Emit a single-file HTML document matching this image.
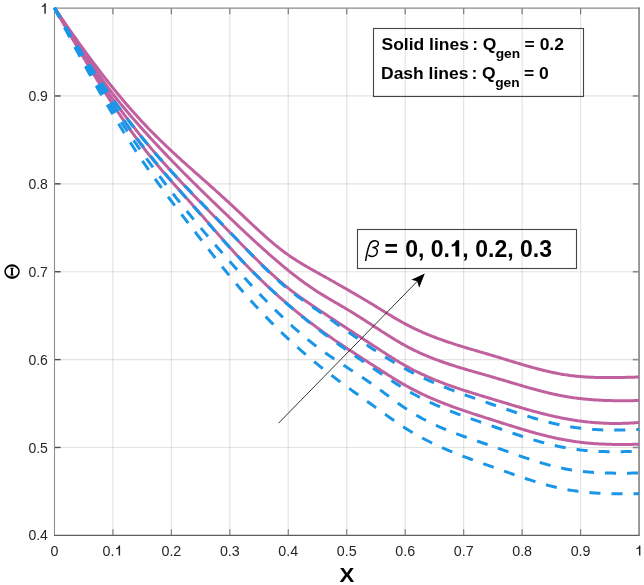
<!DOCTYPE html>
<html><head><meta charset="utf-8"><style>
html,body{margin:0;padding:0;background:#fff;overflow:hidden;width:644px;height:585px;}
svg{display:block;will-change:transform;font-family:"Liberation Sans",sans-serif;}
</style></head><body>
<svg width="644" height="585" viewBox="0 0 644 585">
<rect width="644" height="585" fill="#fff"/>
<line x1="112.90" y1="8" x2="112.90" y2="535" stroke="#000000" stroke-opacity="0.11" stroke-width="1.2"/>
<line x1="171.36" y1="8" x2="171.36" y2="535" stroke="#000000" stroke-opacity="0.11" stroke-width="1.2"/>
<line x1="229.82" y1="8" x2="229.82" y2="535" stroke="#000000" stroke-opacity="0.11" stroke-width="1.2"/>
<line x1="288.28" y1="8" x2="288.28" y2="535" stroke="#000000" stroke-opacity="0.11" stroke-width="1.2"/>
<line x1="346.74" y1="8" x2="346.74" y2="535" stroke="#000000" stroke-opacity="0.11" stroke-width="1.2"/>
<line x1="405.20" y1="8" x2="405.20" y2="535" stroke="#000000" stroke-opacity="0.11" stroke-width="1.2"/>
<line x1="463.66" y1="8" x2="463.66" y2="535" stroke="#000000" stroke-opacity="0.11" stroke-width="1.2"/>
<line x1="522.12" y1="8" x2="522.12" y2="535" stroke="#000000" stroke-opacity="0.11" stroke-width="1.2"/>
<line x1="580.58" y1="8" x2="580.58" y2="535" stroke="#000000" stroke-opacity="0.11" stroke-width="1.2"/>
<line x1="55" y1="447.48" x2="639" y2="447.48" stroke="#000000" stroke-opacity="0.11" stroke-width="1.2"/>
<line x1="55" y1="359.60" x2="639" y2="359.60" stroke="#000000" stroke-opacity="0.11" stroke-width="1.2"/>
<line x1="55" y1="271.73" x2="639" y2="271.73" stroke="#000000" stroke-opacity="0.11" stroke-width="1.2"/>
<line x1="55" y1="183.85" x2="639" y2="183.85" stroke="#000000" stroke-opacity="0.11" stroke-width="1.2"/>
<line x1="55" y1="95.97" x2="639" y2="95.97" stroke="#000000" stroke-opacity="0.11" stroke-width="1.2"/>
<line x1="54.5" y1="7.5" x2="54.5" y2="535.8" stroke="#8e8e8e" stroke-width="1.1"/>
<line x1="54" y1="535.3" x2="639.8" y2="535.3" stroke="#5e5e5e" stroke-width="1.15"/>
<line x1="54" y1="8.1" x2="639.8" y2="8.1" stroke="#8a8a8a" stroke-width="1.4"/>
<line x1="639.05" y1="7.5" x2="639.05" y2="535.8" stroke="#7a7a7a" stroke-width="1.5"/>
<line x1="112.90" y1="535" x2="112.90" y2="529.2" stroke="#7a7a7a" stroke-width="1.1"/>
<line x1="112.90" y1="8.5" x2="112.90" y2="14.3" stroke="#7a7a7a" stroke-width="1.2"/>
<line x1="171.36" y1="535" x2="171.36" y2="529.2" stroke="#7a7a7a" stroke-width="1.1"/>
<line x1="171.36" y1="8.5" x2="171.36" y2="14.3" stroke="#7a7a7a" stroke-width="1.2"/>
<line x1="229.82" y1="535" x2="229.82" y2="529.2" stroke="#7a7a7a" stroke-width="1.1"/>
<line x1="229.82" y1="8.5" x2="229.82" y2="14.3" stroke="#7a7a7a" stroke-width="1.2"/>
<line x1="288.28" y1="535" x2="288.28" y2="529.2" stroke="#7a7a7a" stroke-width="1.1"/>
<line x1="288.28" y1="8.5" x2="288.28" y2="14.3" stroke="#7a7a7a" stroke-width="1.2"/>
<line x1="346.74" y1="535" x2="346.74" y2="529.2" stroke="#7a7a7a" stroke-width="1.1"/>
<line x1="346.74" y1="8.5" x2="346.74" y2="14.3" stroke="#7a7a7a" stroke-width="1.2"/>
<line x1="405.20" y1="535" x2="405.20" y2="529.2" stroke="#7a7a7a" stroke-width="1.1"/>
<line x1="405.20" y1="8.5" x2="405.20" y2="14.3" stroke="#7a7a7a" stroke-width="1.2"/>
<line x1="463.66" y1="535" x2="463.66" y2="529.2" stroke="#7a7a7a" stroke-width="1.1"/>
<line x1="463.66" y1="8.5" x2="463.66" y2="14.3" stroke="#7a7a7a" stroke-width="1.2"/>
<line x1="522.12" y1="535" x2="522.12" y2="529.2" stroke="#7a7a7a" stroke-width="1.1"/>
<line x1="522.12" y1="8.5" x2="522.12" y2="14.3" stroke="#7a7a7a" stroke-width="1.2"/>
<line x1="580.58" y1="535" x2="580.58" y2="529.2" stroke="#7a7a7a" stroke-width="1.1"/>
<line x1="580.58" y1="8.5" x2="580.58" y2="14.3" stroke="#7a7a7a" stroke-width="1.2"/>
<line x1="55" y1="447.48" x2="60.6" y2="447.48" stroke="#4a4a4a" stroke-width="1.4"/>
<line x1="638.5" y1="447.48" x2="632.8" y2="447.48" stroke="#8a8a8a" stroke-width="1.6"/>
<line x1="55" y1="359.60" x2="60.6" y2="359.60" stroke="#4a4a4a" stroke-width="1.4"/>
<line x1="638.5" y1="359.60" x2="632.8" y2="359.60" stroke="#8a8a8a" stroke-width="1.6"/>
<line x1="55" y1="271.73" x2="60.6" y2="271.73" stroke="#4a4a4a" stroke-width="1.4"/>
<line x1="638.5" y1="271.73" x2="632.8" y2="271.73" stroke="#8a8a8a" stroke-width="1.6"/>
<line x1="55" y1="183.85" x2="60.6" y2="183.85" stroke="#4a4a4a" stroke-width="1.4"/>
<line x1="638.5" y1="183.85" x2="632.8" y2="183.85" stroke="#8a8a8a" stroke-width="1.6"/>
<line x1="55" y1="95.97" x2="60.6" y2="95.97" stroke="#4a4a4a" stroke-width="1.4"/>
<line x1="638.5" y1="95.97" x2="632.8" y2="95.97" stroke="#8a8a8a" stroke-width="1.6"/>
<path d="M54.44,7.80 L55.91,9.96 L57.37,12.11 L58.84,14.26 L60.30,16.40 L61.77,18.54 L63.23,20.66 L64.70,22.78 L66.16,24.90 L67.63,27.00 L69.09,29.10 L70.56,31.20 L72.02,33.28 L73.49,35.36 L74.95,37.42 L76.42,39.48 L77.88,41.54 L79.35,43.58 L80.81,45.62 L82.28,47.64 L83.74,49.66 L85.21,51.67 L86.67,53.68 L88.14,55.67 L89.60,57.65 L91.07,59.63 L92.53,61.59 L94.00,63.55 L95.46,65.49 L96.93,67.43 L98.39,69.36 L99.86,71.27 L101.33,73.18 L102.79,75.08 L104.26,76.96 L105.72,78.84 L107.19,80.71 L108.65,82.56 L110.12,84.40 L111.58,86.24 L113.05,88.06 L114.51,89.87 L115.98,91.67 L117.44,93.46 L118.91,95.24 L120.37,97.00 L121.84,98.75 L123.30,100.50 L124.77,102.23 L126.23,103.94 L127.70,105.65 L129.16,107.34 L130.63,109.02 L132.09,110.69 L133.56,112.34 L135.02,113.99 L136.49,115.61 L137.95,117.23 L139.42,118.83 L140.88,120.42 L142.35,122.00 L143.81,123.56 L145.28,125.11 L146.75,126.65 L148.21,128.17 L149.68,129.68 L151.14,131.18 L152.61,132.67 L154.07,134.15 L155.54,135.61 L157.00,137.07 L158.47,138.52 L159.93,139.95 L161.40,141.38 L162.86,142.79 L164.33,144.20 L165.79,145.60 L167.26,146.99 L168.72,148.38 L170.19,149.75 L171.65,151.12 L173.12,152.48 L174.58,153.84 L176.05,155.19 L177.51,156.53 L178.98,157.87 L180.44,159.20 L181.91,160.53 L183.37,161.85 L184.84,163.17 L186.30,164.49 L187.77,165.80 L189.23,167.11 L190.70,168.41 L192.17,169.72 L193.63,171.02 L195.10,172.32 L196.56,173.61 L198.03,174.91 L199.49,176.21 L200.96,177.50 L202.42,178.80 L203.89,180.09 L205.35,181.39 L206.82,182.68 L208.28,183.98 L209.75,185.28 L211.21,186.58 L212.68,187.88 L214.14,189.19 L215.61,190.50 L217.07,191.81 L218.54,193.13 L220.00,194.44 L221.47,195.77 L222.93,197.09 L224.40,198.43 L225.86,199.77 L227.33,201.11 L228.79,202.46 L230.26,203.81 L231.72,205.17 L233.19,206.54 L234.66,207.91 L236.12,209.29 L237.59,210.67 L239.05,212.05 L240.52,213.43 L241.98,214.82 L243.45,216.20 L244.91,217.59 L246.38,218.97 L247.84,220.35 L249.31,221.73 L250.77,223.11 L252.24,224.48 L253.70,225.85 L255.17,227.21 L256.63,228.56 L258.10,229.91 L259.56,231.25 L261.03,232.59 L262.49,233.91 L263.96,235.23 L265.42,236.53 L266.89,237.82 L268.35,239.10 L269.82,240.37 L271.28,241.63 L272.75,242.87 L274.21,244.09 L275.68,245.30 L277.14,246.50 L278.61,247.68 L280.08,248.84 L281.54,249.98 L283.01,251.10 L284.47,252.20 L285.94,253.28 L287.40,254.34 L288.87,255.38 L290.33,256.40 L291.80,257.39 L293.26,258.37 L294.73,259.33 L296.19,260.26 L297.66,261.19 L299.12,262.10 L300.59,262.99 L302.05,263.87 L303.52,264.74 L304.98,265.60 L306.45,266.45 L307.91,267.30 L309.38,268.13 L310.84,268.96 L312.31,269.79 L313.77,270.61 L315.24,271.43 L316.70,272.24 L318.17,273.06 L319.63,273.88 L321.10,274.70 L322.56,275.52 L324.03,276.34 L325.50,277.16 L326.96,277.98 L328.43,278.81 L329.89,279.63 L331.36,280.46 L332.82,281.29 L334.29,282.11 L335.75,282.94 L337.22,283.77 L338.68,284.61 L340.15,285.44 L341.61,286.28 L343.08,287.12 L344.54,287.96 L346.01,288.80 L347.47,289.64 L348.94,290.49 L350.40,291.33 L351.87,292.18 L353.33,293.03 L354.80,293.89 L356.26,294.74 L357.73,295.60 L359.19,296.46 L360.66,297.33 L362.12,298.19 L363.59,299.06 L365.05,299.93 L366.52,300.81 L367.98,301.68 L369.45,302.56 L370.92,303.45 L372.38,304.33 L373.85,305.22 L375.31,306.12 L376.78,307.01 L378.24,307.91 L379.71,308.81 L381.17,309.71 L382.64,310.61 L384.10,311.51 L385.57,312.41 L387.03,313.31 L388.50,314.20 L389.96,315.09 L391.43,315.98 L392.89,316.86 L394.36,317.73 L395.82,318.59 L397.29,319.45 L398.75,320.29 L400.22,321.13 L401.68,321.95 L403.15,322.77 L404.61,323.57 L406.08,324.35 L407.54,325.13 L409.01,325.88 L410.47,326.63 L411.94,327.36 L413.40,328.08 L414.87,328.79 L416.34,329.48 L417.80,330.16 L419.27,330.84 L420.73,331.49 L422.20,332.14 L423.66,332.78 L425.13,333.41 L426.59,334.02 L428.06,334.63 L429.52,335.23 L430.99,335.81 L432.45,336.39 L433.92,336.96 L435.38,337.52 L436.85,338.07 L438.31,338.61 L439.78,339.15 L441.24,339.68 L442.71,340.20 L444.17,340.71 L445.64,341.22 L447.10,341.72 L448.57,342.21 L450.03,342.70 L451.50,343.18 L452.96,343.66 L454.43,344.13 L455.89,344.60 L457.36,345.06 L458.82,345.52 L460.29,345.98 L461.76,346.43 L463.22,346.88 L464.69,347.32 L466.15,347.76 L467.62,348.20 L469.08,348.64 L470.55,349.07 L472.01,349.50 L473.48,349.93 L474.94,350.36 L476.41,350.79 L477.87,351.22 L479.34,351.65 L480.80,352.08 L482.27,352.50 L483.73,352.93 L485.20,353.36 L486.66,353.79 L488.13,354.22 L489.59,354.65 L491.06,355.09 L492.52,355.53 L493.99,355.96 L495.45,356.40 L496.92,356.85 L498.38,357.29 L499.85,357.74 L501.31,358.19 L502.78,358.63 L504.25,359.08 L505.71,359.53 L507.18,359.98 L508.64,360.43 L510.11,360.88 L511.57,361.33 L513.04,361.77 L514.50,362.22 L515.97,362.66 L517.43,363.10 L518.90,363.54 L520.36,363.98 L521.83,364.41 L523.29,364.85 L524.76,365.27 L526.22,365.70 L527.69,366.12 L529.15,366.54 L530.62,366.95 L532.08,367.36 L533.55,367.76 L535.01,368.16 L536.48,368.56 L537.94,368.94 L539.41,369.32 L540.87,369.70 L542.34,370.07 L543.80,370.43 L545.27,370.79 L546.73,371.13 L548.20,371.47 L549.67,371.81 L551.13,372.13 L552.60,372.45 L554.06,372.75 L555.53,373.05 L556.99,373.34 L558.46,373.62 L559.92,373.89 L561.39,374.15 L562.85,374.40 L564.32,374.64 L565.78,374.87 L567.25,375.09 L568.71,375.29 L570.18,375.49 L571.64,375.68 L573.11,375.85 L574.57,376.02 L576.04,376.17 L577.50,376.32 L578.97,376.46 L580.43,376.58 L581.90,376.70 L583.36,376.81 L584.83,376.92 L586.29,377.01 L587.76,377.10 L589.22,377.18 L590.69,377.25 L592.15,377.31 L593.62,377.37 L595.09,377.42 L596.55,377.46 L598.02,377.50 L599.48,377.53 L600.95,377.56 L602.41,377.58 L603.88,377.60 L605.34,377.61 L606.81,377.61 L608.27,377.61 L609.74,377.61 L611.20,377.60 L612.67,377.59 L614.13,377.58 L615.60,377.56 L617.06,377.54 L618.53,377.52 L619.99,377.49 L621.46,377.46 L622.92,377.43 L624.39,377.40 L625.85,377.36 L627.32,377.32 L628.78,377.29 L630.25,377.25 L631.71,377.21 L633.18,377.17 L634.64,377.13 L636.11,377.09 L637.57,377.05 L639.04,377.01" fill="none" stroke="#C0609E" stroke-width="3"/>
<path d="M54.44,7.80 L55.91,10.05 L57.37,12.30 L58.84,14.55 L60.30,16.80 L61.77,19.06 L63.23,21.31 L64.70,23.57 L66.16,25.83 L67.63,28.08 L69.09,30.33 L70.56,32.58 L72.02,34.83 L73.49,37.08 L74.95,39.32 L76.42,41.55 L77.88,43.78 L79.35,46.01 L80.81,48.22 L82.28,50.43 L83.74,52.64 L85.21,54.83 L86.67,57.02 L88.14,59.19 L89.60,61.36 L91.07,63.51 L92.53,65.65 L94.00,67.78 L95.46,69.90 L96.93,72.01 L98.39,74.10 L99.86,76.17 L101.33,78.23 L102.79,80.28 L104.26,82.31 L105.72,84.32 L107.19,86.31 L108.65,88.29 L110.12,90.25 L111.58,92.19 L113.05,94.10 L114.51,96.00 L115.98,97.88 L117.44,99.74 L118.91,101.58 L120.37,103.40 L121.84,105.20 L123.30,106.99 L124.77,108.76 L126.23,110.52 L127.70,112.27 L129.16,114.00 L130.63,115.71 L132.09,117.42 L133.56,119.11 L135.02,120.79 L136.49,122.46 L137.95,124.13 L139.42,125.78 L140.88,127.42 L142.35,129.06 L143.81,130.69 L145.28,132.32 L146.75,133.93 L148.21,135.54 L149.68,137.15 L151.14,138.75 L152.61,140.34 L154.07,141.92 L155.54,143.50 L157.00,145.08 L158.47,146.64 L159.93,148.20 L161.40,149.76 L162.86,151.31 L164.33,152.85 L165.79,154.39 L167.26,155.93 L168.72,157.46 L170.19,158.98 L171.65,160.50 L173.12,162.01 L174.58,163.52 L176.05,165.03 L177.51,166.52 L178.98,168.02 L180.44,169.51 L181.91,171.00 L183.37,172.48 L184.84,173.96 L186.30,175.43 L187.77,176.90 L189.23,178.36 L190.70,179.83 L192.17,181.29 L193.63,182.74 L195.10,184.19 L196.56,185.64 L198.03,187.08 L199.49,188.53 L200.96,189.96 L202.42,191.40 L203.89,192.83 L205.35,194.26 L206.82,195.69 L208.28,197.11 L209.75,198.54 L211.21,199.96 L212.68,201.37 L214.14,202.79 L215.61,204.20 L217.07,205.61 L218.54,207.02 L220.00,208.43 L221.47,209.84 L222.93,211.24 L224.40,212.64 L225.86,214.04 L227.33,215.44 L228.79,216.84 L230.26,218.24 L231.72,219.64 L233.19,221.03 L234.66,222.42 L236.12,223.82 L237.59,225.21 L239.05,226.59 L240.52,227.98 L241.98,229.36 L243.45,230.74 L244.91,232.12 L246.38,233.49 L247.84,234.86 L249.31,236.23 L250.77,237.59 L252.24,238.94 L253.70,240.30 L255.17,241.65 L256.63,242.99 L258.10,244.33 L259.56,245.66 L261.03,246.99 L262.49,248.31 L263.96,249.63 L265.42,250.94 L266.89,252.24 L268.35,253.54 L269.82,254.83 L271.28,256.11 L272.75,257.39 L274.21,258.66 L275.68,259.92 L277.14,261.17 L278.61,262.41 L280.08,263.65 L281.54,264.88 L283.01,266.10 L284.47,267.31 L285.94,268.51 L287.40,269.70 L288.87,270.88 L290.33,272.05 L291.80,273.21 L293.26,274.36 L294.73,275.50 L296.19,276.63 L297.66,277.75 L299.12,278.86 L300.59,279.96 L302.05,281.04 L303.52,282.11 L304.98,283.17 L306.45,284.22 L307.91,285.26 L309.38,286.28 L310.84,287.29 L312.31,288.29 L313.77,289.27 L315.24,290.24 L316.70,291.19 L318.17,292.14 L319.63,293.06 L321.10,293.98 L322.56,294.88 L324.03,295.78 L325.50,296.66 L326.96,297.54 L328.43,298.40 L329.89,299.27 L331.36,300.12 L332.82,300.98 L334.29,301.83 L335.75,302.68 L337.22,303.53 L338.68,304.38 L340.15,305.23 L341.61,306.08 L343.08,306.94 L344.54,307.80 L346.01,308.67 L347.47,309.54 L348.94,310.43 L350.40,311.32 L351.87,312.21 L353.33,313.12 L354.80,314.02 L356.26,314.94 L357.73,315.86 L359.19,316.78 L360.66,317.71 L362.12,318.64 L363.59,319.58 L365.05,320.52 L366.52,321.46 L367.98,322.41 L369.45,323.35 L370.92,324.30 L372.38,325.25 L373.85,326.20 L375.31,327.15 L376.78,328.10 L378.24,329.06 L379.71,330.01 L381.17,330.95 L382.64,331.90 L384.10,332.84 L385.57,333.78 L387.03,334.71 L388.50,335.64 L389.96,336.56 L391.43,337.47 L392.89,338.38 L394.36,339.28 L395.82,340.16 L397.29,341.04 L398.75,341.91 L400.22,342.76 L401.68,343.60 L403.15,344.43 L404.61,345.25 L406.08,346.05 L407.54,346.84 L409.01,347.61 L410.47,348.36 L411.94,349.11 L413.40,349.84 L414.87,350.55 L416.34,351.26 L417.80,351.95 L419.27,352.62 L420.73,353.29 L422.20,353.94 L423.66,354.59 L425.13,355.22 L426.59,355.84 L428.06,356.45 L429.52,357.04 L430.99,357.63 L432.45,358.21 L433.92,358.78 L435.38,359.34 L436.85,359.89 L438.31,360.43 L439.78,360.97 L441.24,361.49 L442.71,362.01 L444.17,362.52 L445.64,363.02 L447.10,363.52 L448.57,364.01 L450.03,364.49 L451.50,364.97 L452.96,365.44 L454.43,365.91 L455.89,366.37 L457.36,366.82 L458.82,367.27 L460.29,367.72 L461.76,368.16 L463.22,368.60 L464.69,369.03 L466.15,369.47 L467.62,369.90 L469.08,370.32 L470.55,370.75 L472.01,371.17 L473.48,371.59 L474.94,372.01 L476.41,372.43 L477.87,372.84 L479.34,373.26 L480.80,373.68 L482.27,374.09 L483.73,374.51 L485.20,374.93 L486.66,375.34 L488.13,375.76 L489.59,376.18 L491.06,376.61 L492.52,377.03 L493.99,377.46 L495.45,377.89 L496.92,378.32 L498.38,378.75 L499.85,379.19 L501.31,379.62 L502.78,380.06 L504.25,380.50 L505.71,380.93 L507.18,381.37 L508.64,381.81 L510.11,382.25 L511.57,382.69 L513.04,383.12 L514.50,383.56 L515.97,384.00 L517.43,384.43 L518.90,384.86 L520.36,385.30 L521.83,385.73 L523.29,386.15 L524.76,386.58 L526.22,387.00 L527.69,387.42 L529.15,387.83 L530.62,388.25 L532.08,388.65 L533.55,389.06 L535.01,389.46 L536.48,389.86 L537.94,390.25 L539.41,390.63 L540.87,391.02 L542.34,391.39 L543.80,391.76 L545.27,392.13 L546.73,392.49 L548.20,392.84 L549.67,393.19 L551.13,393.53 L552.60,393.86 L554.06,394.18 L555.53,394.50 L556.99,394.81 L558.46,395.12 L559.92,395.41 L561.39,395.70 L562.85,395.97 L564.32,396.24 L565.78,396.50 L567.25,396.75 L568.71,396.99 L570.18,397.23 L571.64,397.45 L573.11,397.66 L574.57,397.87 L576.04,398.07 L577.50,398.25 L578.97,398.43 L580.43,398.61 L581.90,398.77 L583.36,398.93 L584.83,399.08 L586.29,399.22 L587.76,399.35 L589.22,399.48 L590.69,399.60 L592.15,399.71 L593.62,399.82 L595.09,399.92 L596.55,400.01 L598.02,400.10 L599.48,400.18 L600.95,400.25 L602.41,400.32 L603.88,400.38 L605.34,400.44 L606.81,400.49 L608.27,400.54 L609.74,400.58 L611.20,400.61 L612.67,400.65 L614.13,400.67 L615.60,400.69 L617.06,400.71 L618.53,400.72 L619.99,400.73 L621.46,400.73 L622.92,400.73 L624.39,400.73 L625.85,400.72 L627.32,400.71 L628.78,400.70 L630.25,400.68 L631.71,400.66 L633.18,400.63 L634.64,400.61 L636.11,400.58 L637.57,400.54 L639.04,400.51" fill="none" stroke="#C0609E" stroke-width="3"/>
<path d="M54.44,7.80 L55.91,10.34 L57.37,12.87 L58.84,15.39 L60.30,17.90 L61.77,20.39 L63.23,22.86 L64.70,25.33 L66.16,27.78 L67.63,30.22 L69.09,32.64 L70.56,35.06 L72.02,37.45 L73.49,39.84 L74.95,42.21 L76.42,44.57 L77.88,46.92 L79.35,49.25 L80.81,51.57 L82.28,53.88 L83.74,56.18 L85.21,58.46 L86.67,60.73 L88.14,62.99 L89.60,65.23 L91.07,67.46 L92.53,69.68 L94.00,71.89 L95.46,74.08 L96.93,76.26 L98.39,78.43 L99.86,80.58 L101.33,82.73 L102.79,84.86 L104.26,86.98 L105.72,89.08 L107.19,91.17 L108.65,93.26 L110.12,95.32 L111.58,97.38 L113.05,99.43 L114.51,101.46 L115.98,103.48 L117.44,105.48 L118.91,107.48 L120.37,109.46 L121.84,111.43 L123.30,113.39 L124.77,115.34 L126.23,117.28 L127.70,119.20 L129.16,121.11 L130.63,123.01 L132.09,124.90 L133.56,126.77 L135.02,128.64 L136.49,130.49 L137.95,132.33 L139.42,134.16 L140.88,135.97 L142.35,137.78 L143.81,139.57 L145.28,141.35 L146.75,143.12 L148.21,144.88 L149.68,146.63 L151.14,148.37 L152.61,150.10 L154.07,151.81 L155.54,153.52 L157.00,155.22 L158.47,156.91 L159.93,158.59 L161.40,160.26 L162.86,161.92 L164.33,163.58 L165.79,165.22 L167.26,166.86 L168.72,168.49 L170.19,170.11 L171.65,171.72 L173.12,173.33 L174.58,174.93 L176.05,176.53 L177.51,178.11 L178.98,179.69 L180.44,181.27 L181.91,182.84 L183.37,184.40 L184.84,185.96 L186.30,187.51 L187.77,189.06 L189.23,190.60 L190.70,192.14 L192.17,193.67 L193.63,195.20 L195.10,196.73 L196.56,198.25 L198.03,199.77 L199.49,201.28 L200.96,202.80 L202.42,204.31 L203.89,205.81 L205.35,207.32 L206.82,208.82 L208.28,210.32 L209.75,211.82 L211.21,213.32 L212.68,214.82 L214.14,216.31 L215.61,217.81 L217.07,219.30 L218.54,220.80 L220.00,222.29 L221.47,223.79 L222.93,225.28 L224.40,226.78 L225.86,228.27 L227.33,229.77 L228.79,231.27 L230.26,232.77 L231.72,234.27 L233.19,235.77 L234.66,237.27 L236.12,238.78 L237.59,240.28 L239.05,241.78 L240.52,243.28 L241.98,244.78 L243.45,246.27 L244.91,247.76 L246.38,249.25 L247.84,250.74 L249.31,252.22 L250.77,253.69 L252.24,255.16 L253.70,256.63 L255.17,258.08 L256.63,259.53 L258.10,260.98 L259.56,262.41 L261.03,263.84 L262.49,265.26 L263.96,266.66 L265.42,268.06 L266.89,269.45 L268.35,270.82 L269.82,272.19 L271.28,273.54 L272.75,274.88 L274.21,276.21 L275.68,277.52 L277.14,278.82 L278.61,280.11 L280.08,281.38 L281.54,282.64 L283.01,283.87 L284.47,285.10 L285.94,286.30 L287.40,287.49 L288.87,288.66 L290.33,289.81 L291.80,290.95 L293.26,292.07 L294.73,293.17 L296.19,294.26 L297.66,295.34 L299.12,296.40 L300.59,297.45 L302.05,298.49 L303.52,299.52 L304.98,300.54 L306.45,301.55 L307.91,302.55 L309.38,303.55 L310.84,304.54 L312.31,305.53 L313.77,306.51 L315.24,307.49 L316.70,308.46 L318.17,309.43 L319.63,310.41 L321.10,311.38 L322.56,312.35 L324.03,313.32 L325.50,314.29 L326.96,315.25 L328.43,316.22 L329.89,317.18 L331.36,318.15 L332.82,319.11 L334.29,320.07 L335.75,321.03 L337.22,322.00 L338.68,322.96 L340.15,323.92 L341.61,324.87 L343.08,325.83 L344.54,326.79 L346.01,327.75 L347.47,328.71 L348.94,329.66 L350.40,330.62 L351.87,331.57 L353.33,332.53 L354.80,333.49 L356.26,334.44 L357.73,335.40 L359.19,336.35 L360.66,337.31 L362.12,338.26 L363.59,339.22 L365.05,340.17 L366.52,341.13 L367.98,342.09 L369.45,343.04 L370.92,344.00 L372.38,344.96 L373.85,345.91 L375.31,346.87 L376.78,347.83 L378.24,348.79 L379.71,349.74 L381.17,350.70 L382.64,351.65 L384.10,352.61 L385.57,353.55 L387.03,354.50 L388.50,355.44 L389.96,356.37 L391.43,357.30 L392.89,358.22 L394.36,359.13 L395.82,360.03 L397.29,360.93 L398.75,361.81 L400.22,362.69 L401.68,363.55 L403.15,364.40 L404.61,365.24 L406.08,366.07 L407.54,366.88 L409.01,367.68 L410.47,368.46 L411.94,369.23 L413.40,369.99 L414.87,370.74 L416.34,371.48 L417.80,372.20 L419.27,372.91 L420.73,373.61 L422.20,374.30 L423.66,374.98 L425.13,375.65 L426.59,376.31 L428.06,376.96 L429.52,377.59 L430.99,378.22 L432.45,378.84 L433.92,379.45 L435.38,380.05 L436.85,380.64 L438.31,381.23 L439.78,381.80 L441.24,382.37 L442.71,382.93 L444.17,383.48 L445.64,384.03 L447.10,384.56 L448.57,385.10 L450.03,385.62 L451.50,386.14 L452.96,386.65 L454.43,387.16 L455.89,387.66 L457.36,388.16 L458.82,388.65 L460.29,389.13 L461.76,389.62 L463.22,390.09 L464.69,390.57 L466.15,391.04 L467.62,391.50 L469.08,391.97 L470.55,392.43 L472.01,392.88 L473.48,393.34 L474.94,393.79 L476.41,394.24 L477.87,394.69 L479.34,395.13 L480.80,395.58 L482.27,396.02 L483.73,396.46 L485.20,396.91 L486.66,397.35 L488.13,397.79 L489.59,398.23 L491.06,398.67 L492.52,399.11 L493.99,399.56 L495.45,400.00 L496.92,400.45 L498.38,400.89 L499.85,401.34 L501.31,401.78 L502.78,402.23 L504.25,402.67 L505.71,403.12 L507.18,403.56 L508.64,404.00 L510.11,404.44 L511.57,404.88 L513.04,405.32 L514.50,405.76 L515.97,406.20 L517.43,406.63 L518.90,407.06 L520.36,407.49 L521.83,407.92 L523.29,408.35 L524.76,408.77 L526.22,409.19 L527.69,409.60 L529.15,410.02 L530.62,410.43 L532.08,410.83 L533.55,411.23 L535.01,411.63 L536.48,412.03 L537.94,412.42 L539.41,412.80 L540.87,413.18 L542.34,413.56 L543.80,413.93 L545.27,414.30 L546.73,414.66 L548.20,415.01 L549.67,415.36 L551.13,415.70 L552.60,416.04 L554.06,416.37 L555.53,416.70 L556.99,417.02 L558.46,417.33 L559.92,417.63 L561.39,417.93 L562.85,418.22 L564.32,418.51 L565.78,418.78 L567.25,419.05 L568.71,419.31 L570.18,419.56 L571.64,419.81 L573.11,420.04 L574.57,420.27 L576.04,420.49 L577.50,420.71 L578.97,420.91 L580.43,421.11 L581.90,421.30 L583.36,421.48 L584.83,421.65 L586.29,421.82 L587.76,421.98 L589.22,422.13 L590.69,422.27 L592.15,422.41 L593.62,422.53 L595.09,422.65 L596.55,422.76 L598.02,422.86 L599.48,422.96 L600.95,423.04 L602.41,423.12 L603.88,423.19 L605.34,423.26 L606.81,423.31 L608.27,423.36 L609.74,423.39 L611.20,423.42 L612.67,423.45 L614.13,423.46 L615.60,423.47 L617.06,423.46 L618.53,423.45 L619.99,423.44 L621.46,423.41 L622.92,423.37 L624.39,423.33 L625.85,423.28 L627.32,423.22 L628.78,423.15 L630.25,423.08 L631.71,423.00 L633.18,422.90 L634.64,422.80 L636.11,422.69 L637.57,422.58 L639.04,422.45" fill="none" stroke="#C0609E" stroke-width="3"/>
<path d="M54.44,7.80 L55.91,10.34 L57.37,12.88 L58.84,15.41 L60.30,17.94 L61.77,20.47 L63.23,22.99 L64.70,25.51 L66.16,28.03 L67.63,30.54 L69.09,33.05 L70.56,35.55 L72.02,38.05 L73.49,40.54 L74.95,43.02 L76.42,45.50 L77.88,47.98 L79.35,50.44 L80.81,52.90 L82.28,55.35 L83.74,57.80 L85.21,60.23 L86.67,62.66 L88.14,65.08 L89.60,67.50 L91.07,69.90 L92.53,72.29 L94.00,74.68 L95.46,77.05 L96.93,79.42 L98.39,81.77 L99.86,84.11 L101.33,86.45 L102.79,88.77 L104.26,91.08 L105.72,93.38 L107.19,95.67 L108.65,97.94 L110.12,100.20 L111.58,102.45 L113.05,104.69 L114.51,106.91 L115.98,109.12 L117.44,111.32 L118.91,113.50 L120.37,115.67 L121.84,117.82 L123.30,119.96 L124.77,122.08 L126.23,124.19 L127.70,126.28 L129.16,128.35 L130.63,130.41 L132.09,132.45 L133.56,134.48 L135.02,136.48 L136.49,138.47 L137.95,140.45 L139.42,142.40 L140.88,144.34 L142.35,146.25 L143.81,148.15 L145.28,150.03 L146.75,151.90 L148.21,153.74 L149.68,155.57 L151.14,157.39 L152.61,159.19 L154.07,160.97 L155.54,162.74 L157.00,164.50 L158.47,166.25 L159.93,167.98 L161.40,169.71 L162.86,171.42 L164.33,173.12 L165.79,174.82 L167.26,176.50 L168.72,178.18 L170.19,179.85 L171.65,181.52 L173.12,183.18 L174.58,184.83 L176.05,186.48 L177.51,188.12 L178.98,189.76 L180.44,191.40 L181.91,193.04 L183.37,194.67 L184.84,196.31 L186.30,197.94 L187.77,199.58 L189.23,201.21 L190.70,202.85 L192.17,204.49 L193.63,206.13 L195.10,207.78 L196.56,209.43 L198.03,211.08 L199.49,212.74 L200.96,214.41 L202.42,216.09 L203.89,217.77 L205.35,219.45 L206.82,221.14 L208.28,222.83 L209.75,224.52 L211.21,226.22 L212.68,227.91 L214.14,229.61 L215.61,231.30 L217.07,232.99 L218.54,234.68 L220.00,236.37 L221.47,238.05 L222.93,239.72 L224.40,241.39 L225.86,243.05 L227.33,244.71 L228.79,246.35 L230.26,247.98 L231.72,249.61 L233.19,251.22 L234.66,252.83 L236.12,254.42 L237.59,256.00 L239.05,257.57 L240.52,259.14 L241.98,260.69 L243.45,262.23 L244.91,263.76 L246.38,265.28 L247.84,266.80 L249.31,268.30 L250.77,269.79 L252.24,271.27 L253.70,272.74 L255.17,274.21 L256.63,275.66 L258.10,277.10 L259.56,278.54 L261.03,279.96 L262.49,281.38 L263.96,282.78 L265.42,284.18 L266.89,285.56 L268.35,286.94 L269.82,288.31 L271.28,289.66 L272.75,291.01 L274.21,292.35 L275.68,293.68 L277.14,295.00 L278.61,296.31 L280.08,297.62 L281.54,298.91 L283.01,300.20 L284.47,301.47 L285.94,302.74 L287.40,304.00 L288.87,305.25 L290.33,306.49 L291.80,307.72 L293.26,308.94 L294.73,310.16 L296.19,311.36 L297.66,312.56 L299.12,313.75 L300.59,314.93 L302.05,316.10 L303.52,317.26 L304.98,318.42 L306.45,319.57 L307.91,320.70 L309.38,321.83 L310.84,322.96 L312.31,324.07 L313.77,325.17 L315.24,326.27 L316.70,327.36 L318.17,328.44 L319.63,329.52 L321.10,330.58 L322.56,331.64 L324.03,332.69 L325.50,333.74 L326.96,334.77 L328.43,335.80 L329.89,336.83 L331.36,337.85 L332.82,338.86 L334.29,339.87 L335.75,340.87 L337.22,341.87 L338.68,342.86 L340.15,343.84 L341.61,344.83 L343.08,345.81 L344.54,346.78 L346.01,347.75 L347.47,348.72 L348.94,349.68 L350.40,350.64 L351.87,351.60 L353.33,352.55 L354.80,353.51 L356.26,354.46 L357.73,355.40 L359.19,356.35 L360.66,357.30 L362.12,358.24 L363.59,359.18 L365.05,360.12 L366.52,361.06 L367.98,362.01 L369.45,362.95 L370.92,363.89 L372.38,364.83 L373.85,365.77 L375.31,366.71 L376.78,367.65 L378.24,368.60 L379.71,369.54 L381.17,370.49 L382.64,371.43 L384.10,372.37 L385.57,373.30 L387.03,374.24 L388.50,375.17 L389.96,376.09 L391.43,377.01 L392.89,377.92 L394.36,378.83 L395.82,379.73 L397.29,380.62 L398.75,381.50 L400.22,382.37 L401.68,383.23 L403.15,384.08 L404.61,384.92 L406.08,385.75 L407.54,386.56 L409.01,387.36 L410.47,388.15 L411.94,388.93 L413.40,389.70 L414.87,390.45 L416.34,391.20 L417.80,391.93 L419.27,392.65 L420.73,393.36 L422.20,394.06 L423.66,394.75 L425.13,395.43 L426.59,396.10 L428.06,396.77 L429.52,397.42 L430.99,398.06 L432.45,398.70 L433.92,399.32 L435.38,399.94 L436.85,400.55 L438.31,401.15 L439.78,401.75 L441.24,402.34 L442.71,402.92 L444.17,403.49 L445.64,404.05 L447.10,404.61 L448.57,405.17 L450.03,405.71 L451.50,406.26 L452.96,406.79 L454.43,407.32 L455.89,407.85 L457.36,408.37 L458.82,408.88 L460.29,409.39 L461.76,409.90 L463.22,410.40 L464.69,410.90 L466.15,411.39 L467.62,411.88 L469.08,412.37 L470.55,412.86 L472.01,413.34 L473.48,413.82 L474.94,414.30 L476.41,414.77 L477.87,415.25 L479.34,415.72 L480.80,416.19 L482.27,416.66 L483.73,417.12 L485.20,417.59 L486.66,418.06 L488.13,418.52 L489.59,418.99 L491.06,419.46 L492.52,419.92 L493.99,420.39 L495.45,420.86 L496.92,421.33 L498.38,421.79 L499.85,422.26 L501.31,422.73 L502.78,423.20 L504.25,423.66 L505.71,424.13 L507.18,424.59 L508.64,425.06 L510.11,425.52 L511.57,425.98 L513.04,426.44 L514.50,426.89 L515.97,427.35 L517.43,427.80 L518.90,428.25 L520.36,428.69 L521.83,429.14 L523.29,429.58 L524.76,430.01 L526.22,430.44 L527.69,430.87 L529.15,431.30 L530.62,431.72 L532.08,432.14 L533.55,432.55 L535.01,432.96 L536.48,433.36 L537.94,433.76 L539.41,434.15 L540.87,434.54 L542.34,434.92 L543.80,435.29 L545.27,435.66 L546.73,436.02 L548.20,436.38 L549.67,436.73 L551.13,437.07 L552.60,437.41 L554.06,437.74 L555.53,438.06 L556.99,438.37 L558.46,438.68 L559.92,438.97 L561.39,439.26 L562.85,439.55 L564.32,439.82 L565.78,440.08 L567.25,440.34 L568.71,440.58 L570.18,440.82 L571.64,441.05 L573.11,441.27 L574.57,441.48 L576.04,441.69 L577.50,441.88 L578.97,442.07 L580.43,442.25 L581.90,442.42 L583.36,442.58 L584.83,442.74 L586.29,442.89 L587.76,443.03 L589.22,443.16 L590.69,443.29 L592.15,443.41 L593.62,443.52 L595.09,443.63 L596.55,443.72 L598.02,443.82 L599.48,443.90 L600.95,443.98 L602.41,444.06 L603.88,444.12 L605.34,444.18 L606.81,444.24 L608.27,444.29 L609.74,444.33 L611.20,444.37 L612.67,444.40 L614.13,444.43 L615.60,444.45 L617.06,444.47 L618.53,444.48 L619.99,444.49 L621.46,444.49 L622.92,444.49 L624.39,444.48 L625.85,444.47 L627.32,444.45 L628.78,444.43 L630.25,444.40 L631.71,444.38 L633.18,444.34 L634.64,444.31 L636.11,444.27 L637.57,444.22 L639.04,444.18" fill="none" stroke="#C0609E" stroke-width="3"/>
<path d="M54.44,7.80 L55.91,10.32 L57.37,12.84 L58.84,15.34 L60.30,17.82 L61.77,20.30 L63.23,22.77 L64.70,25.22 L66.16,27.67 L67.63,30.10 L69.09,32.52 L70.56,34.92 L72.02,37.32 L73.49,39.70 L74.95,42.08 L76.42,44.44 L77.88,46.79 L79.35,49.12 L80.81,51.45 L82.28,53.76 L83.74,56.06 L85.21,58.35 L86.67,60.63 L88.14,62.89 L89.60,65.15 L91.07,67.39 L92.53,69.62 L94.00,71.83 L95.46,74.04 L96.93,76.23 L98.39,78.41 L99.86,80.58 L101.33,82.74 L102.79,84.88 L104.26,87.01 L105.72,89.13 L107.19,91.23 L108.65,93.33 L110.12,95.41 L111.58,97.48 L113.05,99.54 L114.51,101.58 L115.98,103.61 L117.44,105.63 L118.91,107.63 L120.37,109.63 L121.84,111.61 L123.30,113.58 L124.77,115.53 L126.23,117.48 L127.70,119.40 L129.16,121.32 L130.63,123.23 L132.09,125.12 L133.56,127.00 L135.02,128.86 L136.49,130.71 L137.95,132.55 L139.42,134.38 L140.88,136.19 L142.35,137.99 L143.81,139.78 L145.28,141.56 L146.75,143.32 L148.21,145.07 L149.68,146.81 L151.14,148.53 L152.61,150.25 L154.07,151.95 L155.54,153.65 L157.00,155.33 L158.47,157.00 L159.93,158.66 L161.40,160.32 L162.86,161.96 L164.33,163.60 L165.79,165.22 L167.26,166.84 L168.72,168.45 L170.19,170.05 L171.65,171.64 L173.12,173.23 L174.58,174.81 L176.05,176.38 L177.51,177.95 L178.98,179.51 L180.44,181.06 L181.91,182.61 L183.37,184.15 L184.84,185.69 L186.30,187.22 L187.77,188.75 L189.23,190.28 L190.70,191.80 L192.17,193.31 L193.63,194.83 L195.10,196.34 L196.56,197.84 L198.03,199.35 L199.49,200.85 L200.96,202.35 L202.42,203.85 L203.89,205.35 L205.35,206.84 L206.82,208.34 L208.28,209.84 L209.75,211.33 L211.21,212.82 L212.68,214.32 L214.14,215.82 L215.61,217.31 L217.07,218.81 L218.54,220.31 L220.00,221.81 L221.47,223.31 L222.93,224.82 L224.40,226.33 L225.86,227.84 L227.33,229.35 L228.79,230.87 L230.26,232.39 L231.72,233.92 L233.19,235.44 L234.66,236.97 L236.12,238.51 L237.59,240.04 L239.05,241.57 L240.52,243.11 L241.98,244.64 L243.45,246.18 L244.91,247.71 L246.38,249.23 L247.84,250.76 L249.31,252.28 L250.77,253.80 L252.24,255.31 L253.70,256.82 L255.17,258.32 L256.63,259.81 L258.10,261.30 L259.56,262.78 L261.03,264.25 L262.49,265.71 L263.96,267.16 L265.42,268.60 L266.89,270.03 L268.35,271.44 L269.82,272.85 L271.28,274.24 L272.75,275.62 L274.21,276.98 L275.68,278.33 L277.14,279.67 L278.61,280.98 L280.08,282.29 L281.54,283.57 L283.01,284.84 L284.47,286.08 L285.94,287.31 L287.40,288.52 L288.87,289.71 L290.33,290.88 L291.80,292.02 L293.26,293.16 L294.73,294.27 L296.19,295.37 L297.66,296.45 L299.12,297.52 L300.59,298.58 L302.05,299.63 L303.52,300.67 L304.98,301.71 L306.45,302.73 L307.91,303.75 L309.38,304.76 L310.84,305.78 L312.31,306.78 L313.77,307.79 L315.24,308.80 L316.70,309.81 L318.17,310.82 L319.63,311.84 L321.10,312.86 L322.56,313.88 L324.03,314.91 L325.50,315.93 L326.96,316.96 L328.43,317.99 L329.89,319.03 L331.36,320.06 L332.82,321.09 L334.29,322.13 L335.75,323.17 L337.22,324.21 L338.68,325.24 L340.15,326.28 L341.61,327.32 L343.08,328.36 L344.54,329.39 L346.01,330.43 L347.47,331.46 L348.94,332.50 L350.40,333.53 L351.87,334.56 L353.33,335.59 L354.80,336.61 L356.26,337.64 L357.73,338.66 L359.19,339.67 L360.66,340.69 L362.12,341.70 L363.59,342.71 L365.05,343.71 L366.52,344.71 L367.98,345.71 L369.45,346.70 L370.92,347.68 L372.38,348.66 L373.85,349.64 L375.31,350.61 L376.78,351.57 L378.24,352.53 L379.71,353.48 L381.17,354.43 L382.64,355.36 L384.10,356.30 L385.57,357.22 L387.03,358.14 L388.50,359.05 L389.96,359.95 L391.43,360.84 L392.89,361.73 L394.36,362.61 L395.82,363.48 L397.29,364.33 L398.75,365.18 L400.22,366.03 L401.68,366.86 L403.15,367.68 L404.61,368.49 L406.08,369.29 L407.54,370.08 L409.01,370.86 L410.47,371.63 L411.94,372.39 L413.40,373.14 L414.87,373.88 L416.34,374.61 L417.80,375.34 L419.27,376.05 L420.73,376.76 L422.20,377.45 L423.66,378.14 L425.13,378.82 L426.59,379.49 L428.06,380.16 L429.52,380.81 L430.99,381.46 L432.45,382.11 L433.92,382.74 L435.38,383.37 L436.85,383.99 L438.31,384.61 L439.78,385.21 L441.24,385.82 L442.71,386.41 L444.17,387.00 L445.64,387.59 L447.10,388.17 L448.57,388.74 L450.03,389.31 L451.50,389.88 L452.96,390.44 L454.43,390.99 L455.89,391.55 L457.36,392.09 L458.82,392.64 L460.29,393.18 L461.76,393.71 L463.22,394.24 L464.69,394.77 L466.15,395.30 L467.62,395.82 L469.08,396.34 L470.55,396.86 L472.01,397.38 L473.48,397.89 L474.94,398.40 L476.41,398.91 L477.87,399.42 L479.34,399.93 L480.80,400.44 L482.27,400.94 L483.73,401.45 L485.20,401.95 L486.66,402.45 L488.13,402.96 L489.59,403.46 L491.06,403.96 L492.52,404.47 L493.99,404.97 L495.45,405.47 L496.92,405.98 L498.38,406.48 L499.85,406.99 L501.31,407.49 L502.78,407.99 L504.25,408.50 L505.71,409.00 L507.18,409.50 L508.64,409.99 L510.11,410.49 L511.57,410.98 L513.04,411.48 L514.50,411.97 L515.97,412.45 L517.43,412.94 L518.90,413.42 L520.36,413.90 L521.83,414.37 L523.29,414.84 L524.76,415.31 L526.22,415.77 L527.69,416.23 L529.15,416.69 L530.62,417.14 L532.08,417.58 L533.55,418.02 L535.01,418.46 L536.48,418.88 L537.94,419.31 L539.41,419.72 L540.87,420.14 L542.34,420.54 L543.80,420.94 L545.27,421.33 L546.73,421.71 L548.20,422.09 L549.67,422.46 L551.13,422.82 L552.60,423.18 L554.06,423.52 L555.53,423.86 L556.99,424.19 L558.46,424.51 L559.92,424.82 L561.39,425.12 L562.85,425.42 L564.32,425.70 L565.78,425.97 L567.25,426.24 L568.71,426.49 L570.18,426.74 L571.64,426.97 L573.11,427.20 L574.57,427.41 L576.04,427.62 L577.50,427.82 L578.97,428.00 L580.43,428.18 L581.90,428.35 L583.36,428.52 L584.83,428.67 L586.29,428.81 L587.76,428.95 L589.22,429.08 L590.69,429.20 L592.15,429.31 L593.62,429.42 L595.09,429.51 L596.55,429.60 L598.02,429.68 L599.48,429.76 L600.95,429.82 L602.41,429.88 L603.88,429.93 L605.34,429.98 L606.81,430.02 L608.27,430.05 L609.74,430.07 L611.20,430.09 L612.67,430.11 L614.13,430.11 L615.60,430.11 L617.06,430.11 L618.53,430.09 L619.99,430.08 L621.46,430.05 L622.92,430.02 L624.39,429.99 L625.85,429.95 L627.32,429.91 L628.78,429.86 L630.25,429.80 L631.71,429.74 L633.18,429.68 L634.64,429.61 L636.11,429.54 L637.57,429.46 L639.04,429.38" fill="none" stroke="#1A96E8" stroke-width="3" stroke-dasharray="11.1 10.98"/>
<path d="M54.44,7.80 L55.91,10.41 L57.37,13.02 L58.84,15.62 L60.30,18.20 L61.77,20.78 L63.23,23.35 L64.70,25.91 L66.16,28.46 L67.63,31.00 L69.09,33.53 L70.56,36.05 L72.02,38.56 L73.49,41.06 L74.95,43.55 L76.42,46.03 L77.88,48.50 L79.35,50.96 L80.81,53.41 L82.28,55.85 L83.74,58.27 L85.21,60.69 L86.67,63.10 L88.14,65.49 L89.60,67.87 L91.07,70.25 L92.53,72.61 L94.00,74.96 L95.46,77.29 L96.93,79.62 L98.39,81.94 L99.86,84.24 L101.33,86.53 L102.79,88.81 L104.26,91.08 L105.72,93.33 L107.19,95.57 L108.65,97.80 L110.12,100.02 L111.58,102.23 L113.05,104.42 L114.51,106.60 L115.98,108.76 L117.44,110.92 L118.91,113.06 L120.37,115.19 L121.84,117.30 L123.30,119.40 L124.77,121.49 L126.23,123.56 L127.70,125.62 L129.16,127.67 L130.63,129.70 L132.09,131.72 L133.56,133.72 L135.02,135.71 L136.49,137.69 L137.95,139.65 L139.42,141.60 L140.88,143.53 L142.35,145.45 L143.81,147.35 L145.28,149.24 L146.75,151.11 L148.21,152.98 L149.68,154.82 L151.14,156.66 L152.61,158.49 L154.07,160.30 L155.54,162.10 L157.00,163.89 L158.47,165.67 L159.93,167.44 L161.40,169.20 L162.86,170.96 L164.33,172.70 L165.79,174.44 L167.26,176.16 L168.72,177.88 L170.19,179.60 L171.65,181.31 L173.12,183.01 L174.58,184.71 L176.05,186.40 L177.51,188.08 L178.98,189.77 L180.44,191.45 L181.91,193.12 L183.37,194.80 L184.84,196.47 L186.30,198.14 L187.77,199.81 L189.23,201.47 L190.70,203.14 L192.17,204.80 L193.63,206.47 L195.10,208.14 L196.56,209.81 L198.03,211.48 L199.49,213.15 L200.96,214.82 L202.42,216.50 L203.89,218.18 L205.35,219.86 L206.82,221.54 L208.28,223.22 L209.75,224.90 L211.21,226.59 L212.68,228.26 L214.14,229.94 L215.61,231.61 L217.07,233.29 L218.54,234.95 L220.00,236.61 L221.47,238.27 L222.93,239.92 L224.40,241.57 L225.86,243.20 L227.33,244.83 L228.79,246.45 L230.26,248.07 L231.72,249.67 L233.19,251.26 L234.66,252.85 L236.12,254.43 L237.59,255.99 L239.05,257.55 L240.52,259.10 L241.98,260.64 L243.45,262.17 L244.91,263.69 L246.38,265.20 L247.84,266.71 L249.31,268.20 L250.77,269.69 L252.24,271.16 L253.70,272.63 L255.17,274.09 L256.63,275.54 L258.10,276.99 L259.56,278.42 L261.03,279.85 L262.49,281.27 L263.96,282.67 L265.42,284.08 L266.89,285.47 L268.35,286.85 L269.82,288.23 L271.28,289.60 L272.75,290.96 L274.21,292.31 L275.68,293.65 L277.14,294.99 L278.61,296.31 L280.08,297.63 L281.54,298.94 L283.01,300.25 L284.47,301.54 L285.94,302.83 L287.40,304.11 L288.87,305.38 L290.33,306.65 L291.80,307.91 L293.26,309.16 L294.73,310.40 L296.19,311.63 L297.66,312.86 L299.12,314.08 L300.59,315.29 L302.05,316.50 L303.52,317.69 L304.98,318.89 L306.45,320.07 L307.91,321.24 L309.38,322.41 L310.84,323.58 L312.31,324.73 L313.77,325.88 L315.24,327.02 L316.70,328.15 L318.17,329.28 L319.63,330.40 L321.10,331.51 L322.56,332.62 L324.03,333.72 L325.50,334.82 L326.96,335.90 L328.43,336.99 L329.89,338.07 L331.36,339.14 L332.82,340.20 L334.29,341.27 L335.75,342.32 L337.22,343.38 L338.68,344.43 L340.15,345.47 L341.61,346.51 L343.08,347.55 L344.54,348.58 L346.01,349.61 L347.47,350.63 L348.94,351.66 L350.40,352.68 L351.87,353.69 L353.33,354.71 L354.80,355.72 L356.26,356.73 L357.73,357.73 L359.19,358.74 L360.66,359.74 L362.12,360.75 L363.59,361.75 L365.05,362.75 L366.52,363.75 L367.98,364.74 L369.45,365.74 L370.92,366.74 L372.38,367.73 L373.85,368.73 L375.31,369.73 L376.78,370.72 L378.24,371.72 L379.71,372.72 L381.17,373.71 L382.64,374.71 L384.10,375.70 L385.57,376.68 L387.03,377.67 L388.50,378.64 L389.96,379.62 L391.43,380.58 L392.89,381.54 L394.36,382.50 L395.82,383.44 L397.29,384.38 L398.75,385.30 L400.22,386.22 L401.68,387.13 L403.15,388.02 L404.61,388.91 L406.08,389.78 L407.54,390.63 L409.01,391.48 L410.47,392.31 L411.94,393.13 L413.40,393.94 L414.87,394.74 L416.34,395.52 L417.80,396.29 L419.27,397.06 L420.73,397.81 L422.20,398.55 L423.66,399.28 L425.13,400.01 L426.59,400.72 L428.06,401.42 L429.52,402.11 L430.99,402.79 L432.45,403.47 L433.92,404.14 L435.38,404.79 L436.85,405.44 L438.31,406.08 L439.78,406.72 L441.24,407.34 L442.71,407.96 L444.17,408.57 L445.64,409.18 L447.10,409.77 L448.57,410.36 L450.03,410.95 L451.50,411.53 L452.96,412.10 L454.43,412.67 L455.89,413.23 L457.36,413.79 L458.82,414.34 L460.29,414.89 L461.76,415.44 L463.22,415.98 L464.69,416.51 L466.15,417.04 L467.62,417.57 L469.08,418.10 L470.55,418.62 L472.01,419.14 L473.48,419.66 L474.94,420.17 L476.41,420.68 L477.87,421.20 L479.34,421.70 L480.80,422.21 L482.27,422.72 L483.73,423.23 L485.20,423.73 L486.66,424.24 L488.13,424.74 L489.59,425.24 L491.06,425.75 L492.52,426.25 L493.99,426.76 L495.45,427.27 L496.92,427.77 L498.38,428.28 L499.85,428.78 L501.31,429.29 L502.78,429.80 L504.25,430.30 L505.71,430.81 L507.18,431.31 L508.64,431.81 L510.11,432.31 L511.57,432.81 L513.04,433.30 L514.50,433.79 L515.97,434.28 L517.43,434.77 L518.90,435.26 L520.36,435.74 L521.83,436.22 L523.29,436.69 L524.76,437.16 L526.22,437.63 L527.69,438.09 L529.15,438.54 L530.62,439.00 L532.08,439.44 L533.55,439.89 L535.01,440.32 L536.48,440.75 L537.94,441.18 L539.41,441.60 L540.87,442.01 L542.34,442.41 L543.80,442.81 L545.27,443.20 L546.73,443.59 L548.20,443.96 L549.67,444.33 L551.13,444.69 L552.60,445.05 L554.06,445.39 L555.53,445.73 L556.99,446.05 L558.46,446.37 L559.92,446.68 L561.39,446.98 L562.85,447.27 L564.32,447.55 L565.78,447.82 L567.25,448.08 L568.71,448.33 L570.18,448.56 L571.64,448.79 L573.11,449.01 L574.57,449.22 L576.04,449.42 L577.50,449.61 L578.97,449.79 L580.43,449.96 L581.90,450.12 L583.36,450.27 L584.83,450.42 L586.29,450.56 L587.76,450.68 L589.22,450.80 L590.69,450.92 L592.15,451.02 L593.62,451.12 L595.09,451.20 L596.55,451.29 L598.02,451.36 L599.48,451.43 L600.95,451.49 L602.41,451.54 L603.88,451.58 L605.34,451.62 L606.81,451.66 L608.27,451.68 L609.74,451.71 L611.20,451.72 L612.67,451.73 L614.13,451.73 L615.60,451.73 L617.06,451.73 L618.53,451.71 L619.99,451.70 L621.46,451.67 L622.92,451.65 L624.39,451.62 L625.85,451.58 L627.32,451.54 L628.78,451.50 L630.25,451.45 L631.71,451.40 L633.18,451.34 L634.64,451.28 L636.11,451.22 L637.57,451.15 L639.04,451.09" fill="none" stroke="#1A96E8" stroke-width="3" stroke-dasharray="11.1 10.98"/>
<path d="M54.44,7.80 L55.91,10.63 L57.37,13.44 L58.84,16.24 L60.30,19.03 L61.77,21.79 L63.23,24.55 L64.70,27.28 L66.16,30.00 L67.63,32.71 L69.09,35.40 L70.56,38.07 L72.02,40.73 L73.49,43.38 L74.95,46.01 L76.42,48.62 L77.88,51.22 L79.35,53.81 L80.81,56.38 L82.28,58.94 L83.74,61.48 L85.21,64.01 L86.67,66.52 L88.14,69.03 L89.60,71.51 L91.07,73.99 L92.53,76.45 L94.00,78.89 L95.46,81.33 L96.93,83.75 L98.39,86.15 L99.86,88.55 L101.33,90.93 L102.79,93.29 L104.26,95.65 L105.72,97.99 L107.19,100.32 L108.65,102.64 L110.12,104.94 L111.58,107.24 L113.05,109.52 L114.51,111.79 L115.98,114.04 L117.44,116.29 L118.91,118.52 L120.37,120.74 L121.84,122.96 L123.30,125.15 L124.77,127.34 L126.23,129.52 L127.70,131.68 L129.16,133.84 L130.63,135.98 L132.09,138.11 L133.56,140.24 L135.02,142.35 L136.49,144.45 L137.95,146.54 L139.42,148.62 L140.88,150.69 L142.35,152.75 L143.81,154.80 L145.28,156.84 L146.75,158.87 L148.21,160.90 L149.68,162.91 L151.14,164.91 L152.61,166.90 L154.07,168.89 L155.54,170.86 L157.00,172.83 L158.47,174.78 L159.93,176.73 L161.40,178.67 L162.86,180.60 L164.33,182.53 L165.79,184.44 L167.26,186.35 L168.72,188.24 L170.19,190.13 L171.65,192.02 L173.12,193.89 L174.58,195.76 L176.05,197.61 L177.51,199.47 L178.98,201.31 L180.44,203.15 L181.91,204.98 L183.37,206.80 L184.84,208.61 L186.30,210.42 L187.77,212.22 L189.23,214.02 L190.70,215.81 L192.17,217.59 L193.63,219.36 L195.10,221.13 L196.56,222.89 L198.03,224.65 L199.49,226.40 L200.96,228.15 L202.42,229.89 L203.89,231.62 L205.35,233.35 L206.82,235.07 L208.28,236.79 L209.75,238.50 L211.21,240.21 L212.68,241.91 L214.14,243.61 L215.61,245.30 L217.07,246.99 L218.54,248.67 L220.00,250.35 L221.47,252.02 L222.93,253.69 L224.40,255.36 L225.86,257.02 L227.33,258.68 L228.79,260.33 L230.26,261.98 L231.72,263.63 L233.19,265.27 L234.66,266.91 L236.12,268.54 L237.59,270.17 L239.05,271.80 L240.52,273.42 L241.98,275.04 L243.45,276.65 L244.91,278.25 L246.38,279.85 L247.84,281.44 L249.31,283.03 L250.77,284.61 L252.24,286.19 L253.70,287.76 L255.17,289.32 L256.63,290.87 L258.10,292.42 L259.56,293.96 L261.03,295.50 L262.49,297.02 L263.96,298.54 L265.42,300.05 L266.89,301.56 L268.35,303.05 L269.82,304.54 L271.28,306.02 L272.75,307.48 L274.21,308.94 L275.68,310.40 L277.14,311.84 L278.61,313.27 L280.08,314.69 L281.54,316.10 L283.01,317.51 L284.47,318.90 L285.94,320.28 L287.40,321.65 L288.87,323.01 L290.33,324.36 L291.80,325.70 L293.26,327.03 L294.73,328.35 L296.19,329.65 L297.66,330.94 L299.12,332.22 L300.59,333.49 L302.05,334.75 L303.52,335.99 L304.98,337.22 L306.45,338.44 L307.91,339.64 L309.38,340.83 L310.84,342.01 L312.31,343.18 L313.77,344.33 L315.24,345.46 L316.70,346.59 L318.17,347.70 L319.63,348.79 L321.10,349.87 L322.56,350.94 L324.03,351.99 L325.50,353.04 L326.96,354.07 L328.43,355.09 L329.89,356.11 L331.36,357.11 L332.82,358.11 L334.29,359.10 L335.75,360.08 L337.22,361.05 L338.68,362.02 L340.15,362.99 L341.61,363.95 L343.08,364.91 L344.54,365.86 L346.01,366.81 L347.47,367.76 L348.94,368.71 L350.40,369.66 L351.87,370.61 L353.33,371.56 L354.80,372.51 L356.26,373.47 L357.73,374.42 L359.19,375.38 L360.66,376.35 L362.12,377.32 L363.59,378.29 L365.05,379.28 L366.52,380.26 L367.98,381.26 L369.45,382.26 L370.92,383.28 L372.38,384.30 L373.85,385.33 L375.31,386.38 L376.78,387.43 L378.24,388.50 L379.71,389.57 L381.17,390.66 L382.64,391.74 L384.10,392.84 L385.57,393.94 L387.03,395.04 L388.50,396.14 L389.96,397.23 L391.43,398.33 L392.89,399.42 L394.36,400.51 L395.82,401.58 L397.29,402.65 L398.75,403.71 L400.22,404.76 L401.68,405.79 L403.15,406.81 L404.61,407.81 L406.08,408.79 L407.54,409.76 L409.01,410.70 L410.47,411.63 L411.94,412.54 L413.40,413.44 L414.87,414.31 L416.34,415.17 L417.80,416.02 L419.27,416.85 L420.73,417.66 L422.20,418.46 L423.66,419.24 L425.13,420.01 L426.59,420.77 L428.06,421.51 L429.52,422.24 L430.99,422.96 L432.45,423.66 L433.92,424.36 L435.38,425.04 L436.85,425.71 L438.31,426.36 L439.78,427.01 L441.24,427.65 L442.71,428.28 L444.17,428.89 L445.64,429.50 L447.10,430.10 L448.57,430.69 L450.03,431.28 L451.50,431.85 L452.96,432.42 L454.43,432.98 L455.89,433.54 L457.36,434.09 L458.82,434.63 L460.29,435.16 L461.76,435.69 L463.22,436.22 L464.69,436.74 L466.15,437.26 L467.62,437.77 L469.08,438.29 L470.55,438.79 L472.01,439.30 L473.48,439.80 L474.94,440.30 L476.41,440.80 L477.87,441.30 L479.34,441.79 L480.80,442.29 L482.27,442.78 L483.73,443.28 L485.20,443.78 L486.66,444.27 L488.13,444.77 L489.59,445.27 L491.06,445.77 L492.52,446.28 L493.99,446.78 L495.45,447.29 L496.92,447.80 L498.38,448.32 L499.85,448.83 L501.31,449.35 L502.78,449.87 L504.25,450.39 L505.71,450.90 L507.18,451.42 L508.64,451.94 L510.11,452.46 L511.57,452.98 L513.04,453.50 L514.50,454.01 L515.97,454.52 L517.43,455.04 L518.90,455.55 L520.36,456.05 L521.83,456.56 L523.29,457.06 L524.76,457.56 L526.22,458.05 L527.69,458.54 L529.15,459.03 L530.62,459.51 L532.08,459.99 L533.55,460.46 L535.01,460.93 L536.48,461.39 L537.94,461.84 L539.41,462.29 L540.87,462.73 L542.34,463.17 L543.80,463.60 L545.27,464.02 L546.73,464.43 L548.20,464.84 L549.67,465.23 L551.13,465.62 L552.60,466.00 L554.06,466.37 L555.53,466.73 L556.99,467.08 L558.46,467.42 L559.92,467.75 L561.39,468.07 L562.85,468.37 L564.32,468.67 L565.78,468.96 L567.25,469.23 L568.71,469.49 L570.18,469.74 L571.64,469.98 L573.11,470.21 L574.57,470.43 L576.04,470.63 L577.50,470.83 L578.97,471.02 L580.43,471.19 L581.90,471.36 L583.36,471.52 L584.83,471.67 L586.29,471.81 L587.76,471.94 L589.22,472.06 L590.69,472.18 L592.15,472.29 L593.62,472.39 L595.09,472.48 L596.55,472.56 L598.02,472.64 L599.48,472.71 L600.95,472.78 L602.41,472.84 L603.88,472.89 L605.34,472.94 L606.81,472.98 L608.27,473.02 L609.74,473.05 L611.20,473.08 L612.67,473.11 L614.13,473.13 L615.60,473.14 L617.06,473.15 L618.53,473.16 L619.99,473.17 L621.46,473.17 L622.92,473.17 L624.39,473.17 L625.85,473.16 L627.32,473.15 L628.78,473.14 L630.25,473.13 L631.71,473.12 L633.18,473.11 L634.64,473.10 L636.11,473.08 L637.57,473.07 L639.04,473.05" fill="none" stroke="#1A96E8" stroke-width="3" stroke-dasharray="11.1 10.98"/>
<path d="M54.44,7.80 L55.91,10.67 L57.37,13.54 L58.84,16.40 L60.30,19.24 L61.77,22.08 L63.23,24.91 L64.70,27.73 L66.16,30.54 L67.63,33.33 L69.09,36.12 L70.56,38.90 L72.02,41.67 L73.49,44.43 L74.95,47.18 L76.42,49.92 L77.88,52.64 L79.35,55.36 L80.81,58.07 L82.28,60.76 L83.74,63.45 L85.21,66.12 L86.67,68.78 L88.14,71.43 L89.60,74.07 L91.07,76.70 L92.53,79.32 L94.00,81.92 L95.46,84.52 L96.93,87.10 L98.39,89.67 L99.86,92.23 L101.33,94.77 L102.79,97.30 L104.26,99.83 L105.72,102.33 L107.19,104.83 L108.65,107.31 L110.12,109.79 L111.58,112.24 L113.05,114.69 L114.51,117.12 L115.98,119.54 L117.44,121.94 L118.91,124.34 L120.37,126.72 L121.84,129.08 L123.30,131.43 L124.77,133.77 L126.23,136.10 L127.70,138.41 L129.16,140.70 L130.63,142.99 L132.09,145.25 L133.56,147.51 L135.02,149.75 L136.49,151.97 L137.95,154.18 L139.42,156.38 L140.88,158.56 L142.35,160.72 L143.81,162.87 L145.28,165.01 L146.75,167.13 L148.21,169.24 L149.68,171.34 L151.14,173.42 L152.61,175.49 L154.07,177.55 L155.54,179.59 L157.00,181.63 L158.47,183.65 L159.93,185.66 L161.40,187.67 L162.86,189.66 L164.33,191.65 L165.79,193.62 L167.26,195.59 L168.72,197.55 L170.19,199.50 L171.65,201.45 L173.12,203.38 L174.58,205.32 L176.05,207.24 L177.51,209.16 L178.98,211.08 L180.44,212.99 L181.91,214.90 L183.37,216.80 L184.84,218.70 L186.30,220.60 L187.77,222.49 L189.23,224.38 L190.70,226.27 L192.17,228.16 L193.63,230.05 L195.10,231.94 L196.56,233.82 L198.03,235.71 L199.49,237.60 L200.96,239.49 L202.42,241.38 L203.89,243.27 L205.35,245.16 L206.82,247.05 L208.28,248.94 L209.75,250.83 L211.21,252.71 L212.68,254.59 L214.14,256.47 L215.61,258.34 L217.07,260.21 L218.54,262.07 L220.00,263.93 L221.47,265.78 L222.93,267.62 L224.40,269.45 L225.86,271.27 L227.33,273.08 L228.79,274.89 L230.26,276.68 L231.72,278.46 L233.19,280.23 L234.66,281.99 L236.12,283.73 L237.59,285.47 L239.05,287.19 L240.52,288.90 L241.98,290.60 L243.45,292.29 L244.91,293.97 L246.38,295.64 L247.84,297.30 L249.31,298.94 L250.77,300.58 L252.24,302.20 L253.70,303.82 L255.17,305.42 L256.63,307.01 L258.10,308.59 L259.56,310.16 L261.03,311.72 L262.49,313.27 L263.96,314.81 L265.42,316.34 L266.89,317.86 L268.35,319.37 L269.82,320.87 L271.28,322.36 L272.75,323.83 L274.21,325.30 L275.68,326.76 L277.14,328.21 L278.61,329.64 L280.08,331.07 L281.54,332.49 L283.01,333.90 L284.47,335.30 L285.94,336.68 L287.40,338.06 L288.87,339.43 L290.33,340.79 L291.80,342.14 L293.26,343.48 L294.73,344.81 L296.19,346.14 L297.66,347.45 L299.12,348.75 L300.59,350.05 L302.05,351.33 L303.52,352.61 L304.98,353.87 L306.45,355.13 L307.91,356.38 L309.38,357.62 L310.84,358.85 L312.31,360.07 L313.77,361.28 L315.24,362.49 L316.70,363.68 L318.17,364.87 L319.63,366.05 L321.10,367.22 L322.56,368.38 L324.03,369.53 L325.50,370.68 L326.96,371.82 L328.43,372.95 L329.89,374.08 L331.36,375.20 L332.82,376.31 L334.29,377.42 L335.75,378.52 L337.22,379.62 L338.68,380.71 L340.15,381.80 L341.61,382.88 L343.08,383.96 L344.54,385.03 L346.01,386.10 L347.47,387.17 L348.94,388.24 L350.40,389.30 L351.87,390.36 L353.33,391.41 L354.80,392.47 L356.26,393.52 L357.73,394.57 L359.19,395.62 L360.66,396.67 L362.12,397.72 L363.59,398.77 L365.05,399.82 L366.52,400.87 L367.98,401.92 L369.45,402.97 L370.92,404.02 L372.38,405.07 L373.85,406.12 L375.31,407.18 L376.78,408.24 L378.24,409.30 L379.71,410.35 L381.17,411.41 L382.64,412.47 L384.10,413.53 L385.57,414.59 L387.03,415.64 L388.50,416.69 L389.96,417.73 L391.43,418.77 L392.89,419.80 L394.36,420.82 L395.82,421.83 L397.29,422.84 L398.75,423.83 L400.22,424.82 L401.68,425.79 L403.15,426.75 L404.61,427.69 L406.08,428.63 L407.54,429.54 L409.01,430.45 L410.47,431.34 L411.94,432.21 L413.40,433.08 L414.87,433.93 L416.34,434.76 L417.80,435.59 L419.27,436.40 L420.73,437.20 L422.20,437.98 L423.66,438.76 L425.13,439.52 L426.59,440.28 L428.06,441.02 L429.52,441.75 L430.99,442.48 L432.45,443.19 L433.92,443.89 L435.38,444.58 L436.85,445.27 L438.31,445.94 L439.78,446.61 L441.24,447.26 L442.71,447.91 L444.17,448.55 L445.64,449.19 L447.10,449.81 L448.57,450.43 L450.03,451.04 L451.50,451.65 L452.96,452.24 L454.43,452.84 L455.89,453.42 L457.36,454.00 L458.82,454.58 L460.29,455.15 L461.76,455.72 L463.22,456.28 L464.69,456.83 L466.15,457.38 L467.62,457.93 L469.08,458.48 L470.55,459.02 L472.01,459.56 L473.48,460.09 L474.94,460.63 L476.41,461.16 L477.87,461.69 L479.34,462.21 L480.80,462.74 L482.27,463.26 L483.73,463.79 L485.20,464.31 L486.66,464.83 L488.13,465.35 L489.59,465.88 L491.06,466.40 L492.52,466.92 L493.99,467.45 L495.45,467.97 L496.92,468.49 L498.38,469.02 L499.85,469.54 L501.31,470.07 L502.78,470.59 L504.25,471.12 L505.71,471.64 L507.18,472.16 L508.64,472.68 L510.11,473.20 L511.57,473.72 L513.04,474.23 L514.50,474.74 L515.97,475.25 L517.43,475.76 L518.90,476.26 L520.36,476.76 L521.83,477.26 L523.29,477.75 L524.76,478.24 L526.22,478.73 L527.69,479.21 L529.15,479.68 L530.62,480.15 L532.08,480.62 L533.55,481.08 L535.01,481.53 L536.48,481.98 L537.94,482.43 L539.41,482.86 L540.87,483.29 L542.34,483.71 L543.80,484.13 L545.27,484.54 L546.73,484.94 L548.20,485.33 L549.67,485.72 L551.13,486.10 L552.60,486.46 L554.06,486.82 L555.53,487.18 L556.99,487.52 L558.46,487.85 L559.92,488.17 L561.39,488.49 L562.85,488.79 L564.32,489.08 L565.78,489.36 L567.25,489.64 L568.71,489.90 L570.18,490.15 L571.64,490.39 L573.11,490.62 L574.57,490.84 L576.04,491.05 L577.50,491.25 L578.97,491.44 L580.43,491.62 L581.90,491.80 L583.36,491.96 L584.83,492.12 L586.29,492.26 L587.76,492.40 L589.22,492.53 L590.69,492.66 L592.15,492.77 L593.62,492.88 L595.09,492.99 L596.55,493.08 L598.02,493.17 L599.48,493.25 L600.95,493.32 L602.41,493.39 L603.88,493.45 L605.34,493.51 L606.81,493.56 L608.27,493.61 L609.74,493.65 L611.20,493.68 L612.67,493.71 L614.13,493.73 L615.60,493.76 L617.06,493.77 L618.53,493.78 L619.99,493.79 L621.46,493.80 L622.92,493.80 L624.39,493.79 L625.85,493.79 L627.32,493.78 L628.78,493.77 L630.25,493.75 L631.71,493.73 L633.18,493.72 L634.64,493.69 L636.11,493.67 L637.57,493.65 L639.04,493.62" fill="none" stroke="#1A96E8" stroke-width="3" stroke-dasharray="11.1 10.98"/>
<text transform="matrix(1.02,0,0,1,54.44,555.50)" font-size="14" text-anchor="middle" font-weight="normal" fill="#262626">0</text>
<text transform="matrix(1.02,0,0,1,102.60,555.50)" font-size="14" text-anchor="start" font-weight="normal" fill="#262626">0.</text>
<path d="M120.10,555.60 L120.10,545.40 L118.90,545.40 C118.50,547.00 117.50,547.80 116.10,548.10 L116.10,549.20 C117.10,549.10 118.00,548.80 118.65,548.40 L118.65,555.60 Z" fill="#262626"/>
<text transform="matrix(1.02,0,0,1,171.36,555.50)" font-size="14" text-anchor="middle" font-weight="normal" fill="#262626">0.2</text>
<text transform="matrix(1.02,0,0,1,229.82,555.50)" font-size="14" text-anchor="middle" font-weight="normal" fill="#262626">0.3</text>
<text transform="matrix(1.02,0,0,1,288.28,555.50)" font-size="14" text-anchor="middle" font-weight="normal" fill="#262626">0.4</text>
<text transform="matrix(1.02,0,0,1,346.74,555.50)" font-size="14" text-anchor="middle" font-weight="normal" fill="#262626">0.5</text>
<text transform="matrix(1.02,0,0,1,405.20,555.50)" font-size="14" text-anchor="middle" font-weight="normal" fill="#262626">0.6</text>
<text transform="matrix(1.02,0,0,1,463.66,555.50)" font-size="14" text-anchor="middle" font-weight="normal" fill="#262626">0.7</text>
<text transform="matrix(1.02,0,0,1,522.12,555.50)" font-size="14" text-anchor="middle" font-weight="normal" fill="#262626">0.8</text>
<text transform="matrix(1.02,0,0,1,580.58,555.50)" font-size="14" text-anchor="middle" font-weight="normal" fill="#262626">0.9</text>
<path d="M640.40,555.60 L640.40,545.50 L639.20,545.50 C638.80,547.10 637.80,547.90 636.40,548.20 L636.40,549.30 C637.40,549.20 638.30,548.90 638.95,548.50 L638.95,555.60 Z" fill="#262626"/>
<text transform="matrix(1.0,0,0,1,47.90,540.45)" font-size="14" text-anchor="end" font-weight="normal" fill="#262626">0.4</text>
<text transform="matrix(1.0,0,0,1,47.90,452.57)" font-size="14" text-anchor="end" font-weight="normal" fill="#262626">0.5</text>
<text transform="matrix(1.0,0,0,1,47.90,364.70)" font-size="14" text-anchor="end" font-weight="normal" fill="#262626">0.6</text>
<text transform="matrix(1.0,0,0,1,47.90,276.83)" font-size="14" text-anchor="end" font-weight="normal" fill="#262626">0.7</text>
<text transform="matrix(1.0,0,0,1,47.90,188.95)" font-size="14" text-anchor="end" font-weight="normal" fill="#262626">0.8</text>
<text transform="matrix(1.0,0,0,1,47.90,101.07)" font-size="14" text-anchor="end" font-weight="normal" fill="#262626">0.9</text>
<path d="M45.80,13.80 L45.80,3.30 L44.60,3.30 C44.20,4.90 43.20,5.70 41.80,6.00 L41.80,7.10 C42.80,7.00 43.70,6.70 44.35,6.30 L44.35,13.80 Z" fill="#262626"/>
<text transform="matrix(1.06,0,0,1,347.00,582.00)" font-size="21" text-anchor="middle" font-weight="bold" fill="#000">X</text>
<path d="M4.30,271.60 A7.75,7.35 0 1,0 19.80,271.60 A7.75,7.35 0 1,0 4.30,271.60 Z M5.80,271.60 A6.25,5.00 0 1,0 18.30,271.60 A6.25,5.00 0 1,0 5.80,271.60 Z" fill="#000" fill-rule="evenodd"/>
<rect x="11.0" y="267.9" width="1.9" height="7.5" fill="#000"/><rect x="10.2" y="267.8" width="3.4" height="0.9" fill="#000"/><rect x="10.3" y="274.5" width="3.2" height="0.9" fill="#000"/>
<rect x="373.5" y="28.5" width="210" height="68" fill="none" stroke="#444" stroke-width="1.1"/>
<text transform="matrix(1.06,0,0,1,381.50,49.70)" font-size="16.5" text-anchor="start" font-weight="bold" fill="#000">Solid lines<tspan dx="-1.6"> : Q</tspan><tspan font-size="13" dy="8.3" dx="-0.7">gen</tspan><tspan dy="-8.3" dx="-0.4"> = 0.2</tspan></text>
<text transform="matrix(1.06,0,0,1,381.00,78.60)" font-size="16.5" text-anchor="start" font-weight="bold" fill="#000">Dash lines<tspan dx="-1.8"> : Q</tspan><tspan font-size="13" dy="8.3" dx="-0.5">gen</tspan><tspan dy="-8.3" dx="-0.5"> = 0</tspan></text>
<rect x="357.5" y="229.5" width="219" height="39" fill="none" stroke="#444" stroke-width="1.1"/>
<path d="M365.6,261 C366.6,255 368,247 370,243.6 C371.5,241.2 373.4,240.6 375,240.7 C377.4,240.9 378.5,242.3 378.3,244 C378.1,246 376,247.4 372.4,247.4 C375.6,247.5 377.5,249.4 377.3,251.6 C377.1,254.5 374.6,256.5 371.9,256.4 C370.3,256.4 369.1,255.9 368.4,255.1" fill="none" stroke="#000" stroke-width="1.5"/>
<text transform="matrix(1.0,0,0,1,384.60,256.70)" font-size="23" font-weight="bold" fill="#000">=</text>
<text transform="matrix(1.0,0,0,1,405.30,256.70)" font-size="23" font-weight="bold" fill="#000">0,</text>
<text transform="matrix(1.0,0,0,1,430.70,256.70)" font-size="23" font-weight="bold" fill="#000">0.</text>
<text transform="matrix(1.0,0,0,1,462.30,256.70)" font-size="23" font-weight="bold" fill="#000">,</text>
<text transform="matrix(1.0,0,0,1,475.30,256.70)" font-size="23" font-weight="bold" fill="#000">0.2,</text>
<text transform="matrix(1.0,0,0,1,520.00,256.70)" font-size="23" font-weight="bold" fill="#000">0.3</text>
<path d="M459.20,256.60 L459.20,240.20 L456.30,240.20 C455.40,242.40 453.60,243.80 451.70,244.60 L451.70,246.80 C453.00,246.50 454.40,246.10 455.45,245.70 L455.45,256.60 Z" fill="#000"/>
<line x1="278.5" y1="423.2" x2="417.6" y2="281.0" stroke="#2a2a2a" stroke-width="0.95"/>
<polygon points="424.8,273.4 411.3,279.7 417.2,281.3 419.2,287.7" fill="#000"/>
</svg>
</body></html>
